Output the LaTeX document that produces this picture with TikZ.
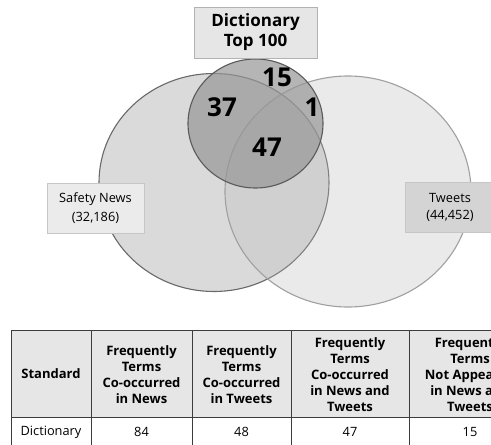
\documentclass[tikz,border=0pt]{standalone}
\usepackage{fontspec}
\setmainfont{Open Sans}
\usetikzlibrary{shapes.geometric}
\definecolor{snfill}{RGB}{218,218,218}
\definecolor{snline}{RGB}{105,105,105}
\definecolor{twfill}{RGB}{186,186,186}
\definecolor{twline}{RGB}{160,160,160}
\definecolor{dcfill}{RGB}{150,150,150}
\definecolor{dcline}{RGB}{90,90,90}
\definecolor{hdrfill}{RGB}{230,230,230}
\definecolor{gridline}{RGB}{60,60,60}
\tikzset{
  venn/.style={ellipse, inner sep=0pt, line width=1.1pt},
  labelbox/.style={rectangle, draw=gray!45, line width=0.8pt, inner sep=0pt, align=center},
  bignum/.style={font=\fontsize{26}{28}\selectfont\bfseries, inner sep=0pt},
  hdr/.style={font=\fontsize{13}{16}\selectfont\bfseries, align=center, inner sep=0pt},
  cell/.style={font=\fontsize{12.8}{15}\selectfont, inner sep=0pt},
  grid/.style={draw=gridline, line width=0.9pt}
}
\begin{document}
\begin{tikzpicture}[x=1pt,y=-1pt]
\useasboundingbox (0,0) rectangle (491,445);
\clip (0,0) rectangle (491,445);
\fill[white] (0,0) rectangle (491,445);
% Venn
\node[venn, draw=snline, fill=snfill, minimum width=230pt, minimum height=218pt] (sn) at (214,182.5) {};
\node[venn, draw=twline, fill=twfill, fill opacity=0.29, minimum width=246pt, minimum height=231pt] (tw) at (348,191.5) {};
\node[venn, draw=dcline, fill=dcfill, fill opacity=0.7, minimum width=135pt, minimum height=129pt] (dc) at (255.5,123.5) {};
% label boxes
\node[labelbox, draw=gray!60, fill=hdrfill, minimum width=123pt, minimum height=51pt, font=\fontsize{17}{20}\selectfont\bfseries] (dbox) at (255.5,32.5) {Dictionary\\Top 100};
\node[labelbox, fill=black!8, minimum width=97pt, minimum height=50pt, font=\fontsize{12.8}{19}\selectfont] (snbox) at (95.5,208) {Safety News\\(32,186)};
\node[labelbox, fill=black!17, minimum width=90pt, minimum height=50pt, font=\fontsize{12.8}{17}\selectfont] (twbox) at (450,207) {Tweets\\(44,452)};
% numbers
\node[bignum] (n15) at (277,77) {15};
\node[bignum] (n37) at (222,107) {37};
\node[bignum] (n1) at (312,107) {1};
\node[bignum] (n47) at (267,147) {47};
% table
\fill[hdrfill] (11,330) rectangle (531,417);
\draw[grid] (11,330) -- (531,330);
\draw[grid] (11,417) -- (531,417);
\draw[grid] (11,330) -- (11,450);
\foreach \x in {91,192,291,409} \draw[grid] (\x,330) -- (\x,450);
\node[hdr] (h0) at (51,374) {Standard};
\node[hdr] (h1) at (141.5,374.5) {Frequently\\Terms\\Co-occurred\\in News};
\node[hdr] (h2) at (241.5,374.5) {Frequently\\Terms\\Co-occurred\\in Tweets};
\node[hdr] (h3) at (350,374.5) {Frequently\\Terms\\Co-occurred\\in News and\\Tweets};
\node[hdr] (h4) at (470,374.5) {Frequently\\Terms\\Not Appeared\\in News and\\Tweets};
\node[cell] (d0) at (51,432) {Dictionary};
\node[cell] (d1) at (141.5,432) {84};
\node[cell] (d2) at (241.5,432) {48};
\node[cell] (d3) at (350,432) {47};
\node[cell] (d4) at (470,432) {15};
\end{tikzpicture}
\end{document}
